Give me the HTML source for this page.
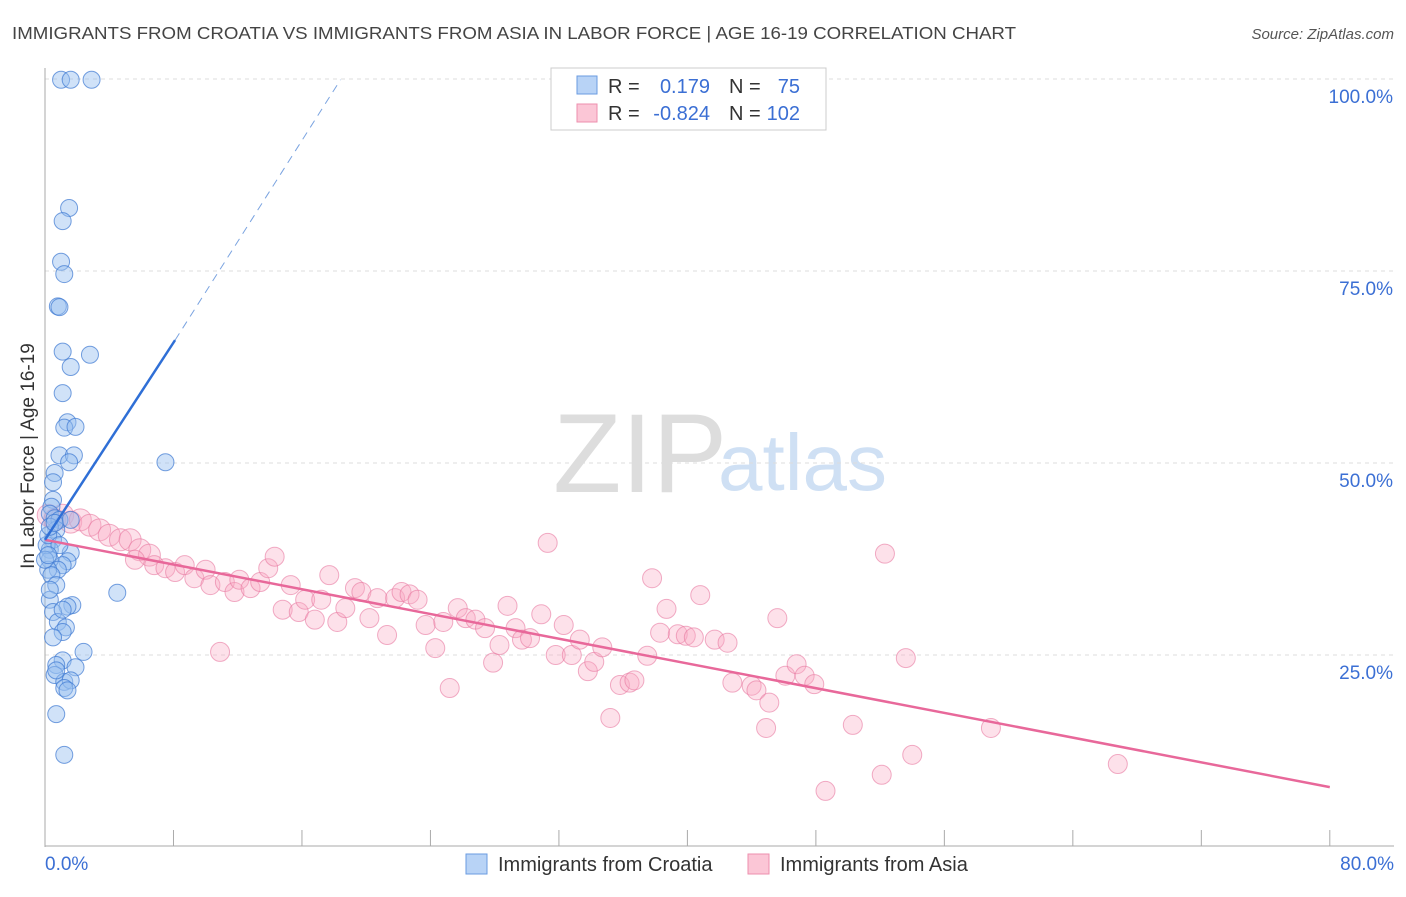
<!DOCTYPE html>
<html><head><meta charset="utf-8"><style>
body{margin:0;background:#fff;font-family:"Liberation Sans",sans-serif;}
svg text{font-family:"Liberation Sans",sans-serif;}
</style></head><body>
<svg id="chart" width="1406" height="892">
<text x="12" y="39" font-size="17.5" fill="#444" textLength="1004" lengthAdjust="spacingAndGlyphs">IMMIGRANTS FROM CROATIA VS IMMIGRANTS FROM ASIA IN LABOR FORCE | AGE 16-19 CORRELATION CHART</text>
<text x="1394" y="39" font-size="15" fill="#555" font-style="italic" text-anchor="end">Source: ZipAtlas.com</text>
<text x="553" y="492" font-size="112" fill="#ddd" font-family="Liberation Serif">ZIP</text>
<text x="718" y="490" font-size="80" fill="#cfe0f4">atlas</text>
<g id="grid"></g><g id="axes"></g><g id="marks"></g>
<text transform="translate(34,456) rotate(-90)" font-size="19" fill="#333" text-anchor="middle">In Labor Force | Age 16-19</text>
<g>
<rect x="551" y="68" width="275" height="62" fill="#fff" stroke="#ccc"/>
<rect x="577" y="76" width="20" height="18" fill="#b8d3f6" stroke="#6a9be0"/>
<rect x="577" y="104" width="20" height="18" fill="#fbc6d6" stroke="#ee8fae"/>
<text x="608" y="93" font-size="20" fill="#333">R =</text><text x="710" y="93" font-size="20" fill="#3b6fd4" text-anchor="end">0.179</text>
<text x="729" y="93" font-size="20" fill="#333">N =</text><text x="800" y="93" font-size="20" fill="#3b6fd4" text-anchor="end">75</text>
<text x="608" y="120" font-size="20" fill="#333">R =</text><text x="710" y="120" font-size="20" fill="#3b6fd4" text-anchor="end">-0.824</text>
<text x="729" y="120" font-size="20" fill="#333">N =</text><text x="800" y="120" font-size="20" fill="#3b6fd4" text-anchor="end">102</text>
</g>
<g>
<rect x="466" y="854" width="21" height="20" fill="#b8d3f6" stroke="#6a9be0"/>
<text x="498" y="871" font-size="20" fill="#333">Immigrants from Croatia</text>
<rect x="748" y="854" width="21" height="20" fill="#fbc6d6" stroke="#ee8fae"/>
<text x="780" y="871" font-size="20" fill="#333">Immigrants from Asia</text>
</g>
</svg>
<script>
const blueX=[1.0,1.6,2.9,1.5,1.1,1.0,1.2,0.8,0.9,1.1,2.8,1.6,1.1,1.4,1.2,1.9,0.9,1.8,1.5,7.5,0.6,0.5,0.5,0.4,0.3,0.6,0.9,1.6,0.7,0.5,0.3,1.6,1.4,1.1,0.3,0.8,0.2,0.4,0.7,4.5,0.3,1.7,1.4,0.5,0.8,1.3,1.1,0.5,2.4,1.1,0.7,1.9,0.6,1.2,1.6,1.2,0.7,1.2,0.3,0.1,0.2,0.3,0.6,0.9,0.0,0.2,1.1,1.4,0.7];
const blueY=[99.9,99.9,99.9,83.2,81.5,76.2,74.6,70.4,70.3,64.5,64.1,62.5,59.1,55.3,54.6,54.7,51.0,51.0,50.1,50.1,48.7,47.5,45.2,44.3,43.4,42.8,42.6,42.6,41.3,40.0,38.7,38.3,37.2,36.7,37.4,36.1,36.1,35.4,34.1,33.1,32.2,31.5,31.3,30.6,29.3,28.6,28.0,27.3,25.4,24.3,23.7,23.4,22.4,21.5,21.7,20.7,17.3,12.0,33.5,39.3,40.6,41.7,42.2,39.3,37.4,38.0,30.9,20.4,23.0];
const pinkX=[0.2,0.6,1.1,1.6,2.2,2.8,3.4,4.0,4.7,5.3,5.9,6.5,5.6,6.8,7.5,8.1,8.7,9.3,10.0,10.3,10.9,11.2,11.8,12.1,12.8,13.4,13.9,14.3,14.8,15.3,15.8,16.2,16.8,17.2,17.7,18.2,18.7,19.3,19.7,20.2,20.7,21.3,21.8,22.2,22.7,23.2,23.7,24.3,24.8,25.2,25.7,26.2,26.8,27.4,27.9,28.3,28.8,29.3,29.7,30.2,30.9,31.3,31.8,32.3,32.8,33.3,33.8,34.2,34.7,35.2,35.8,36.4,36.7,37.5,37.8,38.3,38.7,39.4,39.9,40.4,40.8,41.7,42.5,42.8,44.0,44.3,45.1,44.9,45.6,46.1,46.8,47.3,47.9,48.6,50.3,52.1,52.3,53.6,54.0,58.9,66.8];
const pinkY=[43.2,42.6,43.2,42.3,42.6,41.9,41.3,40.6,40.0,40.0,38.7,38.0,37.4,36.7,36.3,35.8,36.7,35.0,36.1,34.1,25.4,34.5,33.2,34.8,33.7,34.5,36.3,37.8,30.9,34.1,30.6,32.2,29.6,32.2,35.4,29.3,31.1,33.7,33.2,29.8,32.4,27.6,32.4,33.2,32.9,32.2,28.9,25.9,29.3,20.7,31.1,29.8,29.6,28.5,24.0,26.3,31.4,28.5,27.0,27.2,30.3,39.6,25.0,28.9,25.0,27.0,22.9,24.1,26.0,16.8,21.1,21.4,21.7,24.9,35.0,27.9,31.0,27.7,27.5,27.3,32.8,27.0,26.6,21.4,21.0,20.4,18.8,15.5,29.8,22.3,23.8,22.3,21.2,7.3,15.9,9.4,38.2,24.6,12.0,15.5,10.8];
const blueTrend=[0,40.0,8.1,66.0,18.4,99.9];
const pinkTrend=[0,40.0,80,7.8];
const yTicks=[25,50,75,100];
const yTickLabels=["25.0%","50.0%","75.0%","100.0%"];
const xTicks=[0,8,16,24,32,40,48,56,64,72,80];

const NS="http://www.w3.org/2000/svg";
const X=v=>45+v*16.06, Y=v=>847-v*7.68;
function mk(tag,parent,attrs){const e=document.createElementNS(NS,tag);for(const k in attrs)e.setAttribute(k,attrs[k]);document.getElementById(parent).appendChild(e);return e;}
yTicks.forEach((t,i)=>{
 const l=mk('line','grid',{x1:45,x2:1394,y1:Y(t),y2:Y(t),stroke:'#ddd','stroke-dasharray':'4,4'});
 
 
 const tx=mk('text','grid',{x:1393,y:Y(t)+24,'font-size':19,fill:'#3b6fd4','text-anchor':'end'});
 tx.textContent=yTickLabels[i];
 
 
});
const ax=mk('line','axes',{x1:45,x2:45,y1:68,y2:847,stroke:'#aaa'});


const bx=mk('line','axes',{x1:45,x2:1394,y1:846,y2:846,stroke:'#aaa'});


xTicks.forEach(t=>{const l=mk('line','axes',{x1:X(t),x2:X(t),y1:830,y2:846,stroke:'#aaa'});
 
 });
let t0=mk('text','axes',{x:45,y:870,'font-size':19,fill:'#3b6fd4'});t0.textContent=xTicks[0].toFixed(1)+'%';


let t1=mk('text','axes',{x:1394,y:870,'font-size':19,fill:'#3b6fd4','text-anchor':'end'});t1.textContent=xTicks[xTicks.length-1].toFixed(1)+'%';


pinkX.forEach((v,i)=>{const c=mk('circle','marks',{cx:X(v),cy:Y(pinkY[i]),r:i<12?11:9.5,fill:'rgba(248,170,195,0.35)',stroke:'rgba(232,120,160,0.6)','stroke-width':1});
 
 });
blueX.forEach((v,i)=>{const c=mk('circle','marks',{cx:X(v),cy:Y(blueY[i]),r:8.5,fill:'rgba(150,190,240,0.45)',stroke:'rgba(60,120,210,0.7)','stroke-width':1});
 
 });
const pl=mk('line','marks',{x1:X(pinkTrend[0]),y1:Y(pinkTrend[1]),x2:X(pinkTrend[2]),y2:Y(pinkTrend[3]),stroke:'#e8689a','stroke-width':2.5});


const bl=mk('line','marks',{x1:X(blueTrend[0]),y1:Y(blueTrend[1]),x2:X(blueTrend[2]),y2:Y(blueTrend[3]),stroke:'#2f6fd6','stroke-width':2.5});


const bd=mk('line','marks',{x1:X(blueTrend[2]),y1:Y(blueTrend[3]),x2:X(blueTrend[4]),y2:Y(blueTrend[5]),stroke:'#7aa3e0','stroke-width':1,'stroke-dasharray':'8,6'});


</script>
</body></html>
